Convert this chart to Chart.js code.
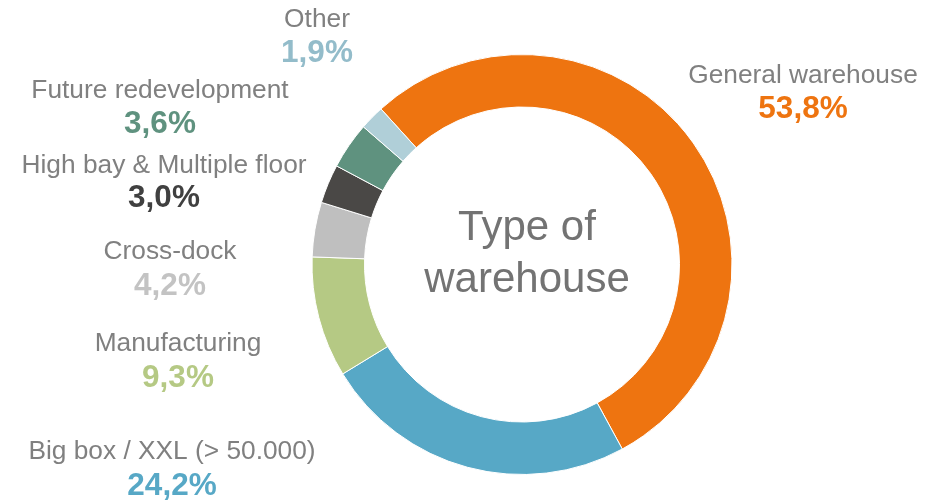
<!DOCTYPE html>
<html>
<head>
<meta charset="utf-8">
<script src="https://cdn.jsdelivr.net/npm/chart.js@4"></script>
<style>
  html, body { margin: 0; padding: 0; background: #ffffff; }
  canvas { display: block; }
</style>
</head>
<body>
<canvas id="c" width="941" height="501"></canvas>
<script>
// ---- data ----
const categories = [
  "General warehouse",
  "Big box / XXL (> 50.000)",
  "Manufacturing",
  "Cross-dock",
  "High bay & Multiple floor",
  "Future redevelopment",
  "Other"
];
const shares = [53.8, 24.2, 9.3, 4.2, 3.0, 3.6, 1.9];
const centerTitle = ["Type of", "warehouse"];

// ---- styles ----
const sliceColors = ["#EE7410", "#57A8C6", "#B5C984", "#BFBFBF", "#4A4846", "#5F927F", "#B0CFD8"];
const valueColors = ["#EE7410", "#57A8C6", "#B5C984", "#C3C3C3", "#404040", "#5F927F", "#93BCCA"];
// label anchors (x centre, name baseline, value baseline)
const labelAnchors = [
  { x: 803, nameY: 83,  valueY: 118 },
  { x: 172, nameY: 459, valueY: 495 },
  { x: 178, nameY: 351, valueY: 387 },
  { x: 170, nameY: 259, valueY: 295 },
  { x: 164, nameY: 173, valueY: 207 },
  { x: 160, nameY: 98,  valueY: 133 },
  { x: 317, nameY: 27,  valueY: 62 }
];
const FONT = '"Liberation Sans", Arial, Helvetica, sans-serif';

const labelPlugin = {
  id: 'labelPlugin',
  afterDraw(chart) {
    const ctx = chart.ctx;
    const meta = chart.getDatasetMeta(0);
    const arc0 = meta.data[0];
    ctx.save();
    ctx.textAlign = 'center';
    ctx.textBaseline = 'alphabetic';
    categories.forEach((name, i) => {
      const a = labelAnchors[i];
      ctx.font = '26.3px ' + FONT;
      ctx.fillStyle = '#808080';
      ctx.fillText(name, a.x, a.nameY);
      ctx.font = 'bold 31.5px ' + FONT;
      ctx.fillStyle = valueColors[i];
      ctx.fillText(shares[i].toFixed(1).replace('.', ',') + '%', a.x, a.valueY);
    });
    // centre title
    const cx = arc0.x + 5, cy = arc0.y;
    ctx.font = '42px ' + FONT;
    ctx.fillStyle = '#737373';
    ctx.fillText(centerTitle[0], cx, cy - 25);
    ctx.fillText(centerTitle[1], cx, cy + 27);
    ctx.restore();
  }
};

new Chart(document.getElementById('c'), {
  type: 'doughnut',
  data: {
    labels: categories,
    datasets: [{
      data: shares,
      backgroundColor: sliceColors,
      borderColor: '#ffffff',
      borderWidth: 1
    }]
  },
  options: {
    responsive: false,
    animation: false,
    cutout: '75%',
    rotation: -42.2,
    layout: { padding: { top: 54, bottom: 26, left: 103, right: 0 } },
    plugins: {
      legend: { display: false },
      tooltip: { enabled: false }
    }
  },
  plugins: [labelPlugin]
});
</script>
</body>
</html>
